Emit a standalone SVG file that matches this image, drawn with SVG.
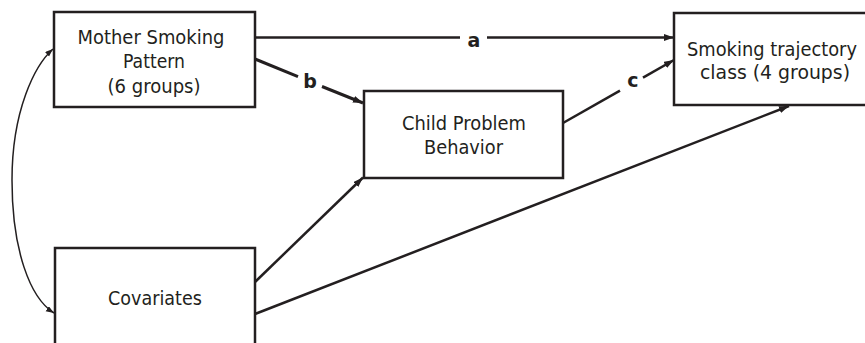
<svg xmlns="http://www.w3.org/2000/svg" width="865" height="343" viewBox="0 0 865 343">
<style>
.box{fill:#fff;stroke:#231f20;stroke-width:2.5}
.t{font-family:"DejaVu Sans",Verdana,sans-serif;font-size:20px;fill:#231f20;text-anchor:middle}
.lb{font-family:"DejaVu Sans",Verdana,sans-serif;font-size:19px;font-weight:bold;fill:#231f20;text-anchor:middle}
.ln{fill:none;stroke:#231f20;stroke-width:2.5}
.lnb{fill:none;stroke:#231f20;stroke-width:3}
.cv{fill:none;stroke:#231f20;stroke-width:1.5}
</style>
<defs>
<marker id="ah" markerUnits="userSpaceOnUse" markerWidth="11" markerHeight="8" refX="10" refY="3.5" orient="auto">
<path d="M0,0 L10,3.5 L0,7 z" fill="#231f20"/>
</marker>
<marker id="ahs" markerUnits="userSpaceOnUse" markerWidth="9" markerHeight="7" refX="8" refY="3" orient="auto">
<path d="M0,0 L8,3 L0,6 z" fill="#231f20"/>
</marker>
</defs>
<g id="connectors">
<line class="ln" x1="255" y1="37.5" x2="460" y2="37.5"/>
<line class="ln" x1="487" y1="37.5" x2="674" y2="37.5" marker-end="url(#ah)"/>
<line class="lnb" x1="255" y1="59" x2="298" y2="76.6"/>
<line class="lnb" x1="322" y1="86.5" x2="363" y2="103" marker-end="url(#ah)"/>
<line class="ln" x1="563" y1="123" x2="620" y2="90.6"/>
<line class="ln" x1="643" y1="77.6" x2="674" y2="60" marker-end="url(#ah)"/>
<line class="ln" x1="255" y1="282" x2="363" y2="177.5" marker-end="url(#ah)"/>
<line class="ln" x1="255" y1="314" x2="789" y2="106" marker-end="url(#ah)"/>
<path class="cv" d="M12,180 C12,110 35,65 53,49" marker-end="url(#ahs)"/>
<path class="cv" d="M12,180 C12,250 30,298 54,313" marker-end="url(#ahs)"/>
<text class="lb" x="474" y="47">a</text>
<text class="lb" x="310" y="88">b</text>
<text class="lb" x="633" y="87">c</text>
</g>
<g id="mother">
<rect class="box" x="54" y="12" width="201" height="95"/>
<text class="t" x="151" y="43.5" textLength="147" lengthAdjust="spacingAndGlyphs">Mother Smoking</text>
<text class="t" x="154" y="68" textLength="62" lengthAdjust="spacingAndGlyphs">Pattern</text>
<text class="t" x="154" y="92.5" textLength="93" lengthAdjust="spacingAndGlyphs">(6 groups)</text>
</g>
<g id="child">
<rect class="box" x="364" y="91" width="199" height="87"/>
<text class="t" x="464" y="130" textLength="124" lengthAdjust="spacingAndGlyphs">Child Problem</text>
<text class="t" x="463.5" y="154" textLength="79" lengthAdjust="spacingAndGlyphs">Behavior</text>
</g>
<g id="trajectory">
<rect class="box" x="674" y="13" width="200" height="92"/>
<text class="t" x="772" y="56" textLength="170" lengthAdjust="spacingAndGlyphs">Smoking trajectory</text>
<text class="t" x="775" y="79" textLength="150" lengthAdjust="spacingAndGlyphs">class (4 groups)</text>
</g>
<g id="covariates">
<rect class="box" x="55" y="248" width="200" height="110"/>
<text class="t" x="155" y="305" textLength="94" lengthAdjust="spacingAndGlyphs">Covariates</text>
</g>
</svg>
